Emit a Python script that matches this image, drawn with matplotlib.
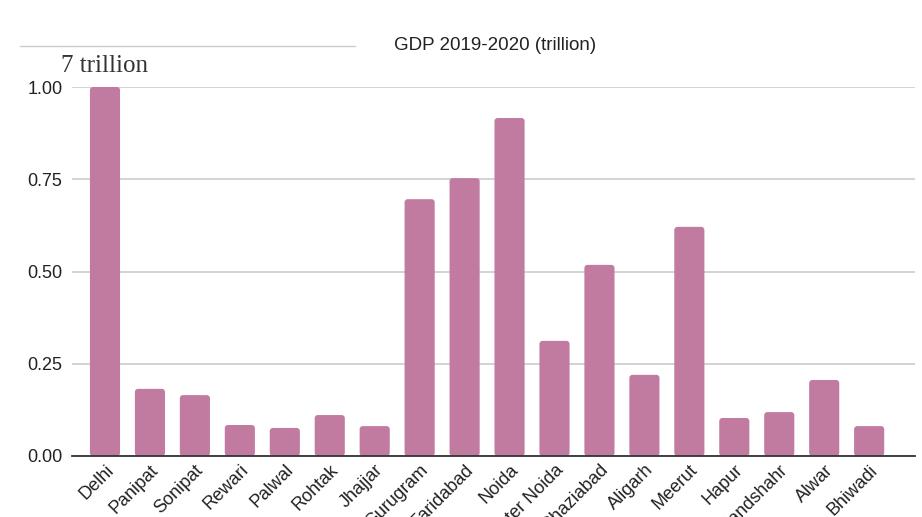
import matplotlib
matplotlib.use("Agg")
import matplotlib.pyplot as plt
from matplotlib.lines import Line2D
from matplotlib.patches import FancyBboxPatch

cities = ["Delhi", "Panipat", "Sonipat", "Rewari", "Palwal", "Rohtak", "Jhajjar",
          "Gurugram", "Faridabad", "Noida", "Greater Noida", "Ghaziabad", "Aligarh",
          "Meerut", "Hapur", "Bulandshahr", "Alwar", "Bhiwadi"]
gdp = [1.00, 0.182, 0.165, 0.084, 0.076, 0.111, 0.081,
       0.696, 0.753, 0.916, 0.312, 0.518, 0.220,
       0.621, 0.103, 0.119, 0.206, 0.081]
yticks = [0.0, 0.25, 0.5, 0.75, 1.0]
ytick_labels = ["0.00", "0.25", "0.50", "0.75", "1.00"]

plt.rcParams['font.family'] = ['Liberation Sans', 'DejaVu Sans']

W, H = 922, 517
fig = plt.figure(figsize=(W/100, H/100), dpi=100)
ax = fig.add_axes([72/W, 1-456/H, (915-72)/W, (456-87)/H])

x = list(range(len(cities)))
bars = ax.bar(x, gdp, width=0.67, color="#C27BA0", zorder=3)
for b in bars:
    b.set_visible(False)
    p = FancyBboxPatch((b.get_x(), b.get_y()), b.get_width(), b.get_height(),
                       boxstyle="round,pad=0,rounding_size=0.07",
                       mutation_aspect=0.122, facecolor="#C27BA0",
                       edgecolor="none", zorder=3, clip_on=False)
    ax.add_patch(p)

ax.set_xlim(-0.734, len(cities) - 1 + 1.02)
ax.set_ylim(0, 1.0)
ax.set_yticks(yticks)
ax.set_yticklabels(ytick_labels, fontsize=13, color="#222222")
ax.set_xticks(x)
ax.set_xticklabels(cities, rotation=45, ha='right', rotation_mode='anchor',
                   fontsize=13, color="#222222")
ax.tick_params(axis='both', length=0)
ax.tick_params(axis='y', pad=7)
ax.tick_params(axis='x', pad=4)

ax.grid(axis='y', color="#cccccc", linewidth=1.2, zorder=0)
for s in ["top", "right", "left"]:
    ax.spines[s].set_visible(False)
ax.spines["bottom"].set_color("#333333")
ax.spines["bottom"].set_linewidth(1.3)
ax.spines["bottom"].set_zorder(4)

fig.text(495/W, 1-45/H, "GDP 2019-2020 (trillion)", ha='center', va='center',
         fontsize=13.5, color="#222222")
fig.text(61/W, 1-66/H, "7 trillion", ha='left', va='center',
         fontsize=18, color="#333333", family=['Liberation Serif', 'DejaVu Serif'])
fig.add_artist(Line2D([20/W, 355/W], [1-46/H, 1-46/H], color="#cccccc",
                      linewidth=1, transform=fig.transFigure))

fig.savefig("out.png", dpi=100)
